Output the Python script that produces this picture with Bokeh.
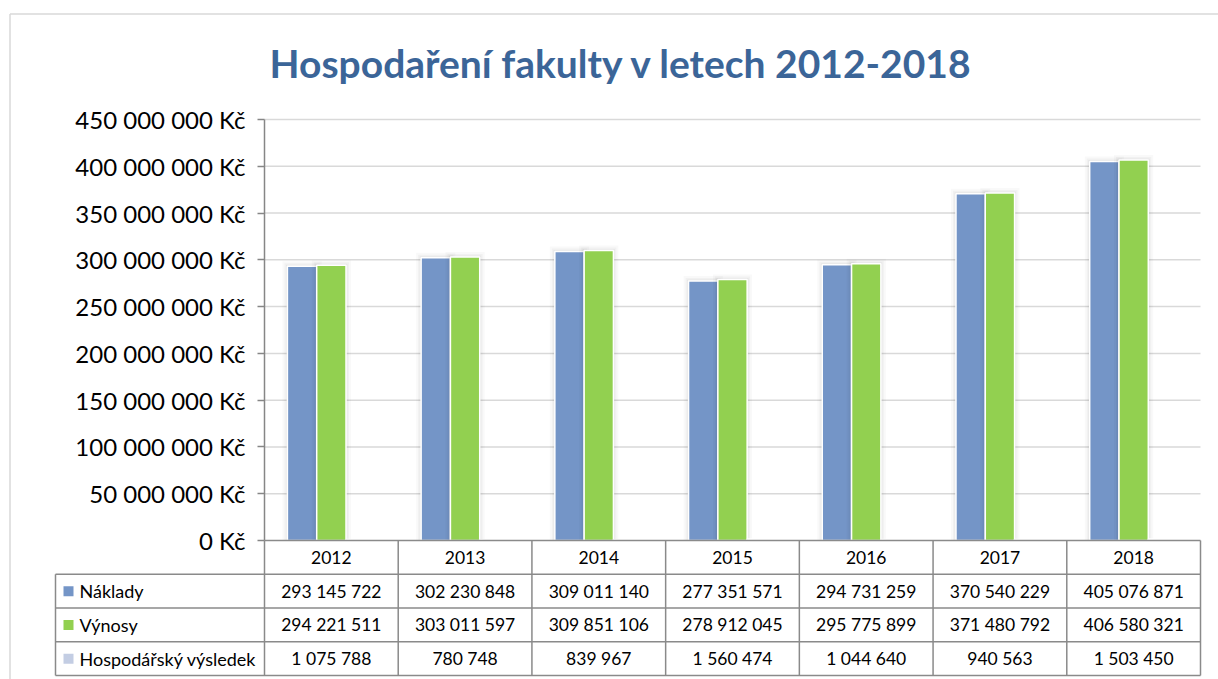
from bokeh.plotting import figure
from bokeh.models import Range1d, FixedTicker
from bokeh.core.properties import value
from bokeh.embed import file_html
from bokeh.resources import INLINE

# ---------------- data ----------------
years = ["2012", "2013", "2014", "2015", "2016", "2017", "2018"]
naklady = [293145722, 302230848, 309011140, 277351571, 294731259, 370540229, 405076871]
vynosy = [294221511, 303011597, 309851106, 278912045, 295775899, 371480792, 406580321]
hosp_vysledek = [1075788, 780748, 839967, 1560474, 1044640, 940563, 1503450]
series_names = ["Náklady", "Výnosy", "Hospodářský výsledek"]
y_ticks = [0, 50e6, 100e6, 150e6, 200e6, 250e6, 300e6, 350e6, 400e6, 450e6]
y_tick_labels = ["0 Kč", "50 000 000 Kč", "100 000 000 Kč", "150 000 000 Kč",
                 "200 000 000 Kč", "250 000 000 Kč", "300 000 000 Kč",
                 "350 000 000 Kč", "400 000 000 Kč", "450 000 000 Kč"]
title_text = "Hospodaření fakulty v letech 2012-2018"

# ---------------- styles / layout ----------------
colors = ["#7495C7", "#92D050", "#C3CDE3"]
FONT = "Lato"
W, H = 1218, 679
PAGE = 0
FL, FR = 264, 1200          # plot area left/right (px)
Y0, YTOP = 540, 119         # value 0 and 450M (px)
RH = 33.75                  # table row height (px)
LBL_L = 55                  # table label column left edge (px)

n = len(years)
u = (FR - FL) / n                     # px per category
ky = (Y0 - YTOP) / max(y_ticks)       # px per unit value

x_start = -(FL - PAGE) / u
x_end = n + (PAGE + W - FR) / u
y_start = -(PAGE + H - Y0) / ky
y_end = (Y0 - PAGE) / ky

p = figure(width=W, height=H, output_backend="svg", toolbar_location=None,
           x_range=Range1d(x_start, x_end), y_range=Range1d(y_start, y_end),
           min_border=0, min_border_left=0, min_border_right=0,
           min_border_top=0, min_border_bottom=0)
p.extra_y_ranges = {"row": Range1d((PAGE + H - Y0) / RH, -(Y0 - PAGE) / RH),
                    "py": Range1d(PAGE + H, PAGE)}
p.extra_x_ranges = {"px": Range1d(PAGE, PAGE + W)}
p.outline_line_color = None
p.background_fill_color = "white"
p.border_fill_color = "white"
p.xaxis.visible = False
p.xgrid.visible = False
p.ygrid.visible = False

def px2x(px):
    return (px - FL) / u

# outer chart border
p.segment(x0=[9.5, 9.5], y0=[13.5, 13.5], x1=[PAGE + W, 9.5], y1=[13.5, PAGE + H],
          x_range_name="px", y_range_name="py", line_color="#D9D9D9", line_width=1.5)

# title
p.text(x=[621], y=[62], text=[title_text], x_range_name="px", y_range_name="py",
       text_align="center", text_baseline="middle", text_font=value(FONT),
       text_font_style="bold", text_font_size=value("39px"), text_color="#3B6598")

# gridlines
gl = [t for t in y_ticks if t > 0]
p.segment(x0=[0] * len(gl), y0=gl, x1=[n] * len(gl), y1=gl,
          line_color="#D9D9D9", line_width=1.5)

# bars
bw = 29.3 / u
offsets = [-bw, 0.0, bw]
for k, (vals, off, col) in enumerate(zip([naklady, vynosy, hosp_vysledek], offsets, colors)):
    xs = [i + 0.5 + off for i in range(n)]
    if k < 2:
        for grow, alpha in [(5, 0.025), (3, 0.03), (1.5, 0.04)]:
            p.vbar(x=xs, top=[v + grow / ky for v in vals], bottom=0,
                   width=bw + 2 * grow / u, fill_color="black", fill_alpha=alpha,
                   line_color=None)
    p.vbar(x=xs, top=vals, bottom=0, width=bw, fill_color=col,
           line_color="white", line_width=1.5)

# y axis
ax = p.yaxis[0]
ax.fixed_location = 0
ax.bounds = (0, max(y_ticks))
ax.ticker = FixedTicker(ticks=y_ticks)
ax.major_label_overrides = {t: lab for t, lab in zip(y_ticks, y_tick_labels)}
ax.axis_line_color = "#868686"
ax.axis_line_width = 1.5
ax.major_tick_line_color = "#868686"
ax.major_tick_line_width = 1.5
ax.major_tick_out = 7
ax.major_tick_in = 0
ax.minor_tick_line_color = None
ax.major_label_standoff = 12
ax.major_label_text_font = FONT
ax.major_label_text_font_size = "24px"
ax.major_label_text_color = "black"

# data table
L = px2x(LBL_L)
tcol = "#8A8A8A"
hx0 = [0] + [L] * 4
hx1 = [n] * 5
hy = [0, 1, 2, 3, 4]
p.segment(x0=hx0, y0=hy, x1=hx1, y1=hy, y_range_name="row", line_color=tcol, line_width=1.5)
vx = list(range(n + 1)) + [L]
p.segment(x0=vx, y0=[0] * (n + 1) + [1], x1=vx, y1=[4] * (n + 2), y_range_name="row",
          line_color=tcol, line_width=1.5)

p.text(x=[i + 0.5 for i in range(n)], y=[0.5] * n, text=years, y_range_name="row",
       text_align="center", text_baseline="middle", text_font=value(FONT),
       text_font_size=value("17.5px"), text_color="black")

def fmt(v):
    return f"{v:,}".replace(",", " ")

for r, vals in enumerate([naklady, vynosy, hosp_vysledek], start=1):
    p.text(x=[i + 0.5 for i in range(n)], y=[r + 0.5] * n, text=[fmt(v) for v in vals],
           y_range_name="row", text_align="center", text_baseline="middle",
           text_font=value(FONT), text_font_size=value("17.5px"), text_color="black")

rows = [1.5, 2.5, 3.5]
p.scatter(x=[px2x(68)] * 3, y=rows, marker="square", size=10, fill_color=colors,
          line_color=None, y_range_name="row")
p.text(x=[px2x(79)] * 3, y=rows, text=series_names, y_range_name="row",
       text_align="left", text_baseline="middle", text_font=value(FONT),
       text_font_size=value("18px"), text_color="black")

open("out.html", "w").write(file_html(p, INLINE))
